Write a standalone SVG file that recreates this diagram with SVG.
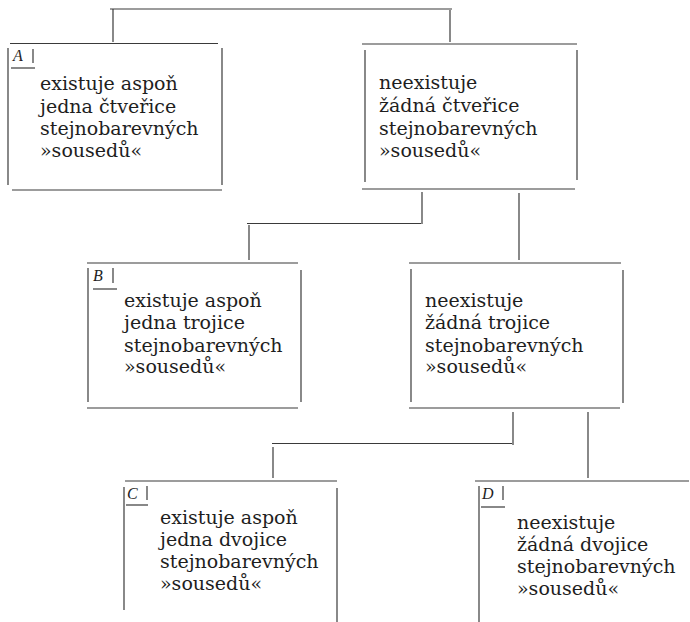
<svg xmlns="http://www.w3.org/2000/svg" width="690" height="622" viewBox="0 0 690 622">
<style>
.ln{stroke:#3a3a3a;stroke-width:1.2;fill:none;stroke-linecap:butt}
.t{font-family:"DejaVu Serif","Liberation Serif",serif;font-size:19px;fill:#1e1e1e}
.lb{font-family:"Liberation Serif","Times New Roman",serif;font-size:16px;font-style:italic;fill:#1e1e1e}
</style>
<rect width="690" height="622" fill="#ffffff"/>
<g id="connectors" class="ln">
<path d="M110,9 H452"/>
<path d="M113,9 V42"/>
<path d="M450,10 V42"/>
<path d="M422,192 V224"/>
<path d="M247,223.5 H421"/>
<path d="M249,225 V260"/>
<path d="M519,193 V260"/>
<path d="M513,412 V445"/>
<path d="M272,443.5 H512"/>
<path d="M273,447 V478"/>
<path d="M588,412 V478"/>
</g>
<g id="nodeA">
<g class="ln"><path d="M10,43.5 H218"/><path d="M8,48 V185"/><path d="M222,48 V185"/><path d="M12,190 H222"/>
<path d="M33,49 V63"/><path d="M11,68 H35"/></g>
<text class="lb" x="13" y="61">A</text>
<text class="t" x="40" y="90">existuje aspoň</text>
<text class="t" x="40" y="112.5">jedna čtveřice</text>
<text class="t" x="40" y="135">stejnobarevných</text>
<text class="t" x="40" y="157">»sousedů«</text>
</g>
<g id="nodeA2">
<g class="ln"><path d="M362,44 H577"/><path d="M365,50 V182"/><path d="M577,50 V180"/><path d="M362,189 H575"/></g>
<text class="t" x="379" y="89">neexistuje</text>
<text class="t" x="379" y="112">žádná čtveřice</text>
<text class="t" x="379" y="134.5">stejnobarevných</text>
<text class="t" x="379" y="157">»sousedů«</text>
</g>
<g id="nodeB">
<g class="ln"><path d="M87,263 H298"/><path d="M88,268 V402"/><path d="M301,270 V402"/><path d="M87,408 H298"/>
<path d="M113,268 V283"/><path d="M93,289 H117"/></g>
<text class="lb" x="93" y="281">B</text>
<text class="t" x="124" y="307">existuje aspoň</text>
<text class="t" x="124" y="329">jedna trojice</text>
<text class="t" x="124" y="352">stejnobarevných</text>
<text class="t" x="124" y="373">»sousedů«</text>
</g>
<g id="nodeB2">
<g class="ln"><path d="M409,263 H621"/><path d="M411,269 V402"/><path d="M623,270 V403"/><path d="M409,408 H620"/></g>
<text class="t" x="425" y="307">neexistuje</text>
<text class="t" x="425" y="329">žádná trojice</text>
<text class="t" x="425" y="352">stejnobarevných</text>
<text class="t" x="425" y="373">»sousedů«</text>
</g>
<g id="nodeC">
<g class="ln"><path d="M125,481 H337"/><path d="M124,487 V610"/><path d="M337,488 V622"/>
<path d="M147,486 V500"/><path d="M126,505 H148"/></g>
<text class="lb" x="127" y="499">C</text>
<text class="t" x="160" y="524">existuje aspoň</text>
<text class="t" x="160" y="546">jedna dvojice</text>
<text class="t" x="160" y="568">stejnobarevných</text>
<text class="t" x="160" y="590">»sousedů«</text>
</g>
<g id="nodeD">
<g class="ln"><path d="M475,481 H689"/><path d="M479,486 V622"/>
<path d="M503,486 V500"/><path d="M481,507 H505"/></g>
<text class="lb" x="482" y="499">D</text>
<text class="t" x="517" y="529">neexistuje</text>
<text class="t" x="517" y="551">žádná dvojice</text>
<text class="t" x="517" y="573">stejnobarevných</text>
<text class="t" x="517" y="595">»sousedů«</text>
</g>
</svg>
